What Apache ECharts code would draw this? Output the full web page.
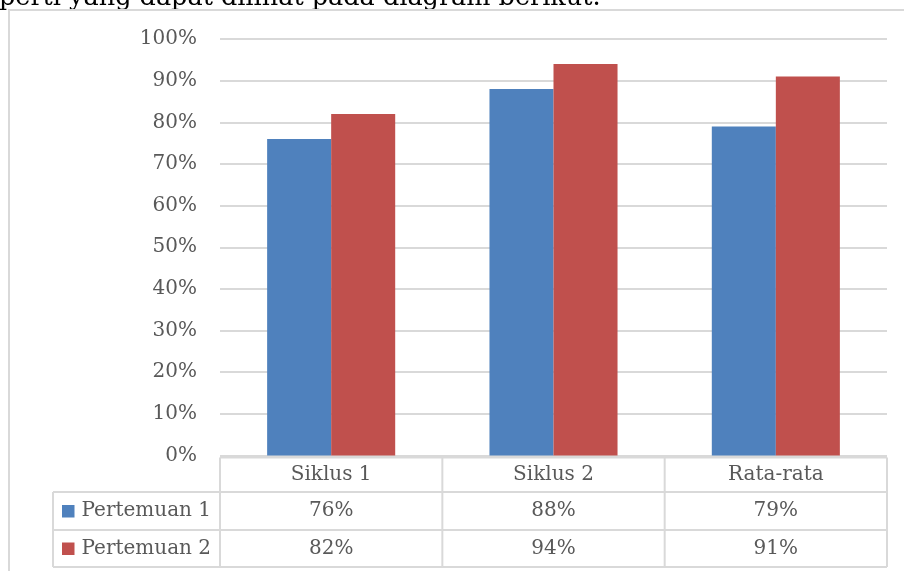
<!DOCTYPE html>
<html>
<head>
<meta charset="utf-8">
<script src="https://cdn.jsdelivr.net/npm/echarts@6/dist/echarts.min.js"></script>
<style>html,body{margin:0;padding:0;background:#fff}#c{width:904px;height:571px}</style>
</head>
<body>
<div id="c"></div>
<script>
const categories = ['Siklus 1', 'Siklus 2', 'Rata-rata'];
const seriesNames = ['Pertemuan 1', 'Pertemuan 2'];
const pertemuan1 = [76, 88, 79];
const pertemuan2 = [82, 94, 91];
const yTicks = [0, 10, 20, 30, 40, 50, 60, 70, 80, 90, 100];
const colors = ['#4F81BD', '#C0504D'];
const FONT = 'DejaVu Serif';
const TXT = '#595959';
const LINE = '#d9d9d9';

const chart = echarts.init(document.getElementById('c'), null, {renderer: 'canvas'});
const option = {
  animation: false,
  backgroundColor: '#fff',
  grid: {left: 220, right: 17, top: 39, bottom: 115.5, containLabel: false},
  xAxis: {
    type: 'category',
    data: categories,
    axisLine: {show: false},
    axisTick: {show: false},
    axisLabel: {fontFamily: FONT, fontSize: 20, color: TXT, margin: 19, verticalAlign: 'middle'}
  },
  yAxis: {
    type: 'value',
    min: yTicks[0], max: yTicks[yTicks.length - 1], interval: 10,
    axisLine: {show: false},
    axisTick: {show: false},
    axisLabel: {fontFamily: FONT, fontSize: 20, color: TXT, margin: 23, formatter: v => v + '%'},
    splitLine: {lineStyle: {color: LINE, width: 2}}
  },
  series: [
    {name: seriesNames[0], type: 'bar', data: pertemuan1, barGap: '0%', barCategoryGap: '42.4%', itemStyle: {color: colors[0]}},
    {name: seriesNames[1], type: 'bar', data: pertemuan2, barGap: '0%', barCategoryGap: '42.4%', itemStyle: {color: colors[1]}}
  ]
};
chart.setOption(option);

// Build data table under the axis
const x0 = 220, x1 = 904 - 17;
const catW = (x1 - x0) / categories.length;
const legX = 53;
const rowTop = 457.5, row1 = 492, row2 = 530, row3 = 567;
const g = [];
function line(xa, ya, xb, yb) {
  g.push({type: 'line', shape: {x1: xa, y1: ya, x2: xb, y2: yb}, style: {stroke: LINE, lineWidth: 2}, silent: true});
}
// top text (cut off by the chart box)
g.push({type: 'text', x: -1, y: -2, z: -20, style: {text: 'perti yang dapat dilihat pada diagram berikut.', fontFamily: FONT, fontSize: 25.5, fill: '#000', verticalAlign: 'middle', align: 'left'}, silent: true});
// outer frame of chart box (white fill covers text below)
g.push({type: 'rect', z: -10, shape: {x: 9, y: 10, width: 950, height: 600}, style: {fill: '#fff', stroke: LINE, lineWidth: 2}, silent: true});
line(x0, rowTop, x1, rowTop);
line(legX, row1, x1, row1);
line(legX, row2, x1, row2);
line(legX, row3, x1, row3);
line(legX, row1, legX, row3);
for (let i = 0; i <= categories.length; i++) {
  const xx = x0 + i * catW;
  line(xx, rowTop, xx, row3);
}
const rows = [pertemuan1, pertemuan2];
const rowCenters = [(row1 + row2) / 2, (row2 + row3) / 2];
rows.forEach((vals, r) => {
  const cy = rowCenters[r];
  g.push({type: 'rect', shape: {x: 62, y: cy - 6, width: 12.5, height: 12.5}, style: {fill: colors[r]}, silent: true});
  g.push({type: 'text', x: 81.5, y: cy, style: {text: seriesNames[r], fontFamily: FONT, fontSize: 20, fill: TXT, verticalAlign: 'middle', align: 'left'}, silent: true});
  vals.forEach((v, i) => {
    const cx = chart.convertToPixel({xAxisIndex: 0}, categories[i]);
    g.push({type: 'text', x: cx, y: cy, style: {text: v + '%', fontFamily: FONT, fontSize: 20, fill: TXT, verticalAlign: 'middle', align: 'center'}, silent: true});
  });
});
chart.setOption({graphic: g});
</script>
</body>
</html>
